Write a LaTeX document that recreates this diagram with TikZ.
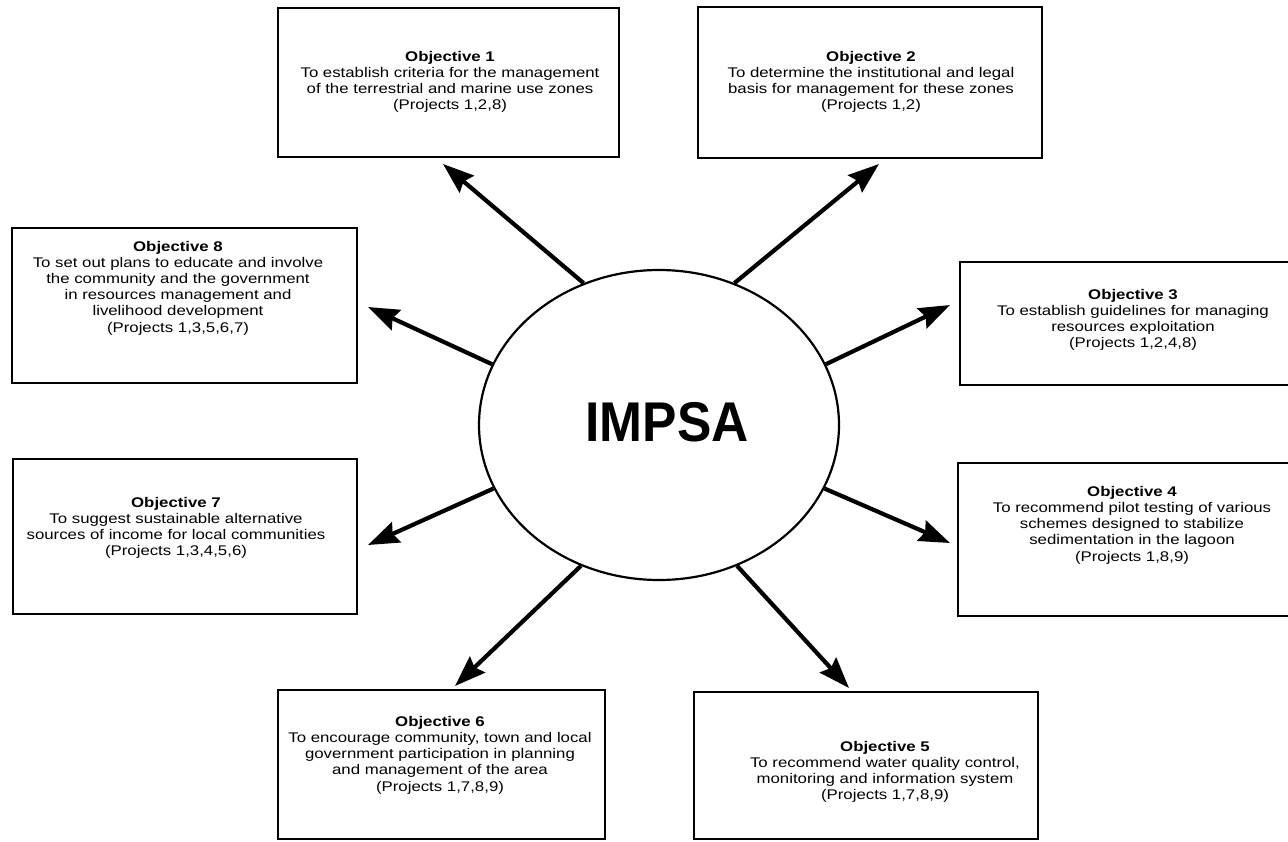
\documentclass[tikz,border=0pt]{standalone}
\usepackage{fontspec}
\setmainfont{Liberation Sans}[FakeStretch=1.2]
\newfontfamily\bigfont{Liberation Sans}[FakeStretch=0.92]
\usetikzlibrary{arrows.meta,shapes.geometric}
\begin{document}
\begin{tikzpicture}[x=1pt,y=-1pt,
  objbox/.style={draw, line width=2.2pt, rectangle, inner sep=0pt},
  objtxt/.style={align=center, font=\fontsize{14}{16.2}\selectfont, inner sep=0pt},
  ray/.style={line width=4.2pt, -{Stealth[length=31pt,width=22pt,inset=4pt]}},
]
\clip (0,0) rectangle (1288,841);
\fill[white] (0,0) rectangle (1288,841);

% boxes
\node[objbox, minimum width=341pt, minimum height=149pt] (b1) at (448.5,82.5) {};
\node[objbox, minimum width=344pt, minimum height=151pt] (b2) at (870,82.5) {};
\node[objbox, minimum width=345pt, minimum height=155pt] (b8) at (184.5,305.5) {};
\node[objbox, minimum width=340pt, minimum height=123pt] (b3) at (1130,323.5) {};
\node[objbox, minimum width=344pt, minimum height=155pt] (b7) at (185,536.5) {};
\node[objbox, minimum width=342pt, minimum height=153pt] (b4) at (1129,539.5) {};
\node[objbox, minimum width=327pt, minimum height=149pt] (b6) at (441.5,764.5) {};
\node[objbox, minimum width=344pt, minimum height=147pt] (b5) at (866,765.5) {};

% texts
\node[objtxt] (t1) at (450,82) {\textbf{Objective 1}\\To establish criteria for the management\\of the terrestrial and marine use zones\\(Projects 1,2,8)};
\node[objtxt] (t2) at (871,82) {\textbf{Objective 2}\\To determine the institutional and legal\\basis for management for these zones\\(Projects 1,2)};
\node[objtxt] (t8) at (178,288) {\textbf{Objective 8}\\To set out plans to educate and involve\\the community and the government\\in resources management and\\livelihood development\\(Projects 1,3,5,6,7)};
\node[objtxt] (t3) at (1133,320) {\textbf{Objective 3}\\To establish guidelines for managing\\resources exploitation\\(Projects 1,2,4,8)};
\node[objtxt] (t7) at (176,528) {\textbf{Objective 7}\\To suggest sustainable alternative\\sources of income for local communities\\(Projects 1,3,4,5,6)};
\node[objtxt] (t4) at (1132,525) {\textbf{Objective 4}\\To recommend pilot testing of various\\schemes designed to stabilize\\sedimentation in the lagoon\\(Projects 1,8,9)};
\node[objtxt] (t6) at (440,755) {\textbf{Objective 6}\\To encourage community, town and local\\government participation in planning\\and management of the area\\(Projects 1,7,8,9)};
\node[objtxt] (t5) at (885,772) {\textbf{Objective 5}\\To recommend water quality control,\\monitoring and information system\\(Projects 1,7,8,9)};

% centre
\node[draw, ellipse, line width=2.2pt, inner sep=0pt, minimum width=360pt, minimum height=310pt] (e) at (659,425) {};
\node[inner sep=0pt] (lbl) at (667,422) {\bigfont\bfseries\fontsize{56}{60}\selectfont IMPSA};

% arrow tips
\coordinate (p1) at (443,164);
\coordinate (p2) at (879,164);
\coordinate (p8) at (368,307);
\coordinate (p3) at (950,305);
\coordinate (p7) at (368,545);
\coordinate (p4) at (950,543);
\coordinate (p6) at (455,686);
\coordinate (p5) at (849,688);

\draw[ray] (e.118) -- (p1);
\draw[ray] (e.62) -- (p2);
\draw[ray] (e.160) -- (p8);
\draw[ray] (e.20) -- (p3);
\draw[ray] (e.201) -- (p7);
\draw[ray] (e.339) -- (p4);
\draw[ray] (e.241) -- (p6);
\draw[ray] (e.299) -- (p5);
\end{tikzpicture}
\end{document}
